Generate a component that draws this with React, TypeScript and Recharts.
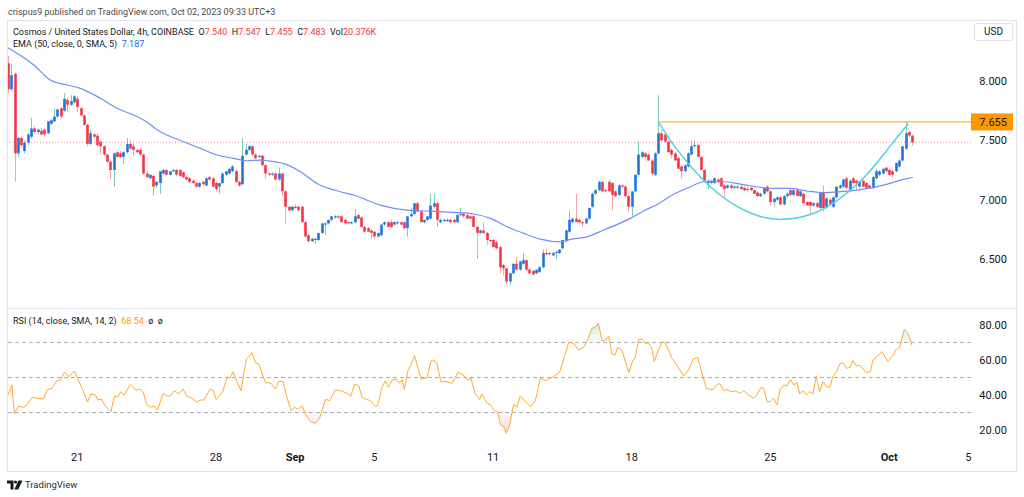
import React from "react";
import { ComposedChart, Bar, Line, Area, XAxis, YAxis, ReferenceLine } from "recharts";

// 4h candles [open, high, low, close], Aug 17 -> Oct 2
const candles: [number, number, number, number][] = [
  [8.15, 8.21, 7.9, 7.93], [7.93, 8.14, 7.91, 8.05], [8.06, 8.07, 7.15, 7.39], [7.39, 7.53, 7.36, 7.52], [7.52, 7.53, 7.44, 7.46],
  [7.41, 7.5, 7.39, 7.48], [7.48, 7.56, 7.46, 7.55], [7.53, 7.69, 7.51, 7.6], [7.6, 7.62, 7.56, 7.57], [7.57, 7.6, 7.55, 7.59],
  [7.58, 7.6, 7.54, 7.55], [7.59, 7.6, 7.53, 7.55], [7.56, 7.66, 7.55, 7.66], [7.64, 7.68, 7.63, 7.67], [7.66, 7.76, 7.65, 7.7],
  [7.7, 7.77, 7.69, 7.76], [7.77, 7.78, 7.68, 7.7], [7.75, 7.9, 7.74, 7.85], [7.84, 7.86, 7.74, 7.8], [7.8, 7.88, 7.79, 7.83],
  [7.82, 7.88, 7.81, 7.87], [7.85, 7.87, 7.74, 7.78], [7.77, 7.78, 7.7, 7.71], [7.71, 7.72, 7.62, 7.63], [7.63, 7.64, 7.45, 7.47],
  [7.47, 7.59, 7.46, 7.56], [7.55, 7.56, 7.52, 7.53], [7.54, 7.56, 7.45, 7.46], [7.49, 7.5, 7.38, 7.45], [7.45, 7.46, 7.37, 7.38],
  [7.38, 7.39, 7.31, 7.32], [7.32, 7.33, 7.17, 7.25], [7.25, 7.4, 7.11, 7.39], [7.4, 7.41, 7.35, 7.36], [7.39, 7.41, 7.35, 7.36],
  [7.36, 7.41, 7.3, 7.4], [7.4, 7.52, 7.39, 7.47], [7.47, 7.5, 7.42, 7.43], [7.45, 7.47, 7.37, 7.42], [7.42, 7.43, 7.39, 7.4],
  [7.42, 7.43, 7.37, 7.38], [7.38, 7.39, 7.21, 7.22], [7.22, 7.24, 7.18, 7.19], [7.18, 7.21, 7.17, 7.21], [7.2, 7.21, 7.03, 7.11],
  [7.12, 7.16, 7.1, 7.15], [7.14, 7.24, 7.05, 7.24], [7.22, 7.26, 7.21, 7.25], [7.25, 7.26, 7.2, 7.21], [7.21, 7.24, 7.2, 7.24],
  [7.24, 7.26, 7.23, 7.25], [7.25, 7.26, 7.2, 7.21], [7.25, 7.26, 7.19, 7.2], [7.23, 7.24, 7.18, 7.19], [7.19, 7.2, 7.16, 7.17],
  [7.18, 7.19, 7.14, 7.15], [7.16, 7.17, 7.13, 7.14], [7.14, 7.15, 7.1, 7.11], [7.11, 7.15, 7.1, 7.14], [7.15, 7.16, 7.12, 7.13],
  [7.12, 7.19, 7.11, 7.18], [7.19, 7.2, 7.16, 7.17], [7.18, 7.19, 7.1, 7.11], [7.14, 7.15, 7.07, 7.09], [7.11, 7.14, 7.05, 7.14],
  [7.14, 7.23, 7.13, 7.22], [7.21, 7.24, 7.2, 7.24], [7.22, 7.27, 7.21, 7.26], [7.24, 7.29, 7.23, 7.28], [7.24, 7.26, 7.14, 7.15],
  [7.15, 7.16, 7.11, 7.12], [7.13, 7.52, 7.12, 7.37], [7.38, 7.47, 7.37, 7.42], [7.42, 7.46, 7.41, 7.45], [7.45, 7.46, 7.37, 7.38],
  [7.38, 7.39, 7.34, 7.35], [7.36, 7.38, 7.35, 7.37], [7.37, 7.38, 7.28, 7.29], [7.29, 7.3, 7.18, 7.22], [7.22, 7.23, 7.2, 7.21],
  [7.21, 7.23, 7.2, 7.22], [7.22, 7.23, 7.16, 7.17], [7.17, 7.27, 7.16, 7.22], [7.22, 7.23, 7.03, 7.07], [7.07, 7.08, 6.8, 6.94],
  [6.94, 6.95, 6.9, 6.91], [6.91, 6.95, 6.9, 6.94], [6.94, 6.96, 6.92, 6.93], [6.94, 6.95, 6.9, 6.91], [6.94, 6.95, 6.81, 6.81],
  [6.81, 6.82, 6.68, 6.69], [6.7, 6.71, 6.64, 6.65], [6.65, 6.68, 6.64, 6.67], [6.66, 6.68, 6.63, 6.67], [6.66, 6.72, 6.65, 6.72],
  [6.72, 6.8, 6.71, 6.8], [6.79, 6.81, 6.7, 6.8], [6.8, 6.83, 6.79, 6.83], [6.83, 6.86, 6.82, 6.86], [6.85, 6.87, 6.84, 6.86],
  [6.86, 6.87, 6.84, 6.85], [6.86, 6.87, 6.81, 6.81], [6.83, 6.84, 6.79, 6.8], [6.81, 6.82, 6.79, 6.8], [6.8, 6.82, 6.79, 6.81],
  [6.81, 6.92, 6.8, 6.86], [6.87, 6.88, 6.83, 6.84], [6.85, 6.86, 6.77, 6.77], [6.77, 6.78, 6.72, 6.73], [6.76, 6.77, 6.73, 6.73],
  [6.74, 6.75, 6.67, 6.72], [6.73, 6.74, 6.67, 6.69], [6.69, 6.72, 6.68, 6.72], [6.7, 6.79, 6.69, 6.79], [6.79, 6.82, 6.78, 6.81],
  [6.81, 6.82, 6.77, 6.77], [6.81, 6.83, 6.76, 6.77], [6.79, 6.82, 6.78, 6.81], [6.8, 6.82, 6.79, 6.81], [6.81, 6.82, 6.78, 6.79],
  [6.81, 6.82, 6.75, 6.76], [6.76, 6.86, 6.69, 6.86], [6.86, 6.93, 6.85, 6.88], [6.88, 6.97, 6.87, 6.97], [6.97, 6.98, 6.89, 6.9],
  [6.9, 6.91, 6.81, 6.81], [6.81, 6.83, 6.8, 6.83], [6.83, 6.86, 6.82, 6.86], [6.84, 7.05, 6.83, 6.95], [6.94, 7.05, 6.93, 6.97],
  [6.97, 6.98, 6.77, 6.83], [6.81, 6.84, 6.8, 6.83], [6.82, 6.84, 6.81, 6.83], [6.82, 6.84, 6.81, 6.83], [6.83, 6.84, 6.8, 6.81],
  [6.83, 6.84, 6.8, 6.81], [6.81, 6.88, 6.8, 6.87], [6.87, 6.93, 6.86, 6.88], [6.88, 6.89, 6.85, 6.86], [6.87, 6.88, 6.84, 6.84],
  [6.86, 6.87, 6.84, 6.84], [6.86, 6.87, 6.77, 6.77], [6.77, 6.78, 6.5, 6.72], [6.72, 6.75, 6.71, 6.74], [6.74, 6.81, 6.71, 6.72],
  [6.72, 6.73, 6.62, 6.66], [6.66, 6.67, 6.64, 6.65], [6.66, 6.67, 6.6, 6.6], [6.64, 6.65, 6.58, 6.59], [6.6, 6.61, 6.38, 6.43],
  [6.45, 6.46, 6.36, 6.42], [6.42, 6.43, 6.29, 6.31], [6.31, 6.38, 6.28, 6.38], [6.38, 6.46, 6.37, 6.46], [6.46, 6.52, 6.4, 6.41],
  [6.41, 6.48, 6.4, 6.48], [6.46, 6.55, 6.45, 6.49], [6.49, 6.5, 6.4, 6.41], [6.41, 6.42, 6.37, 6.38], [6.4, 6.41, 6.36, 6.37],
  [6.38, 6.41, 6.37, 6.41], [6.39, 6.44, 6.38, 6.43], [6.43, 6.58, 6.42, 6.55], [6.55, 6.58, 6.53, 6.54], [6.55, 6.56, 6.53, 6.54],
  [6.53, 6.56, 6.52, 6.55], [6.55, 6.57, 6.5, 6.56], [6.55, 6.58, 6.54, 6.58], [6.59, 6.66, 6.58, 6.66], [6.65, 6.75, 6.64, 6.74],
  [6.73, 6.91, 6.72, 6.83], [6.81, 6.85, 6.8, 6.84], [6.84, 7.05, 6.81, 6.81], [6.83, 6.84, 6.8, 6.81], [6.81, 6.82, 6.77, 6.8],
  [6.8, 6.85, 6.79, 6.84], [6.84, 6.93, 6.83, 6.93], [6.94, 7.06, 6.93, 7.05], [7.05, 7.09, 7.04, 7.08], [7.08, 7.16, 7.07, 7.15],
  [7.15, 7.16, 7.06, 7.07], [7.08, 7.09, 7.06, 7.07], [7.15, 7.17, 7.07, 7.07], [7.14, 7.15, 6.91, 7.04], [7.07, 7.08, 7.02, 7.03],
  [7.04, 7.13, 7.03, 7.12], [7.12, 7.13, 7.1, 7.11], [7.11, 7.12, 7.02, 7.03], [7.03, 7.04, 6.9, 6.94], [6.94, 7.07, 6.86, 7.07],
  [7.07, 7.21, 7.06, 7.21], [7.21, 7.49, 7.19, 7.38], [7.36, 7.41, 7.35, 7.4], [7.39, 7.4, 7.35, 7.36], [7.38, 7.39, 7.33, 7.33],
  [7.33, 7.34, 7.2, 7.22], [7.21, 7.4, 7.2, 7.39], [7.39, 7.88, 7.38, 7.56], [7.56, 7.59, 7.49, 7.5], [7.55, 7.57, 7.48, 7.49],
  [7.49, 7.5, 7.4, 7.4], [7.42, 7.43, 7.35, 7.38], [7.39, 7.4, 7.33, 7.33], [7.35, 7.36, 7.26, 7.26], [7.28, 7.29, 7.18, 7.24],
  [7.24, 7.3, 7.23, 7.29], [7.28, 7.4, 7.27, 7.39], [7.38, 7.5, 7.37, 7.45], [7.45, 7.5, 7.44, 7.46], [7.46, 7.47, 7.36, 7.36],
  [7.36, 7.37, 7.25, 7.25], [7.25, 7.26, 7.15, 7.15], [7.14, 7.17, 7.09, 7.16], [7.14, 7.17, 7.13, 7.16], [7.14, 7.19, 7.13, 7.18],
  [7.17, 7.18, 7.14, 7.15], [7.18, 7.19, 7.11, 7.11], [7.12, 7.13, 7.02, 7.09], [7.1, 7.13, 7.09, 7.12], [7.12, 7.13, 7.09, 7.1],
  [7.1, 7.12, 7.09, 7.11], [7.1, 7.12, 7.09, 7.11], [7.11, 7.12, 7.08, 7.09], [7.1, 7.11, 7.07, 7.08], [7.09, 7.11, 7.07, 7.08],
  [7.1, 7.11, 7.07, 7.08], [7.08, 7.09, 7.05, 7.05], [7.06, 7.07, 7.02, 7.03], [7.03, 7.06, 7.02, 7.05], [7.05, 7.1, 7.04, 7.1],
  [7.11, 7.12, 7.06, 7.07], [7.07, 7.08, 6.95, 6.98], [6.98, 7.01, 6.94, 7.01], [7.0, 7.03, 6.99, 7.02], [7.02, 7.03, 6.95, 6.96],
  [6.96, 7.04, 6.95, 7.03], [7.03, 7.06, 7.02, 7.05], [7.08, 7.09, 7.03, 7.04], [7.04, 7.09, 7.03, 7.08], [7.08, 7.09, 7.03, 7.03],
  [7.03, 7.07, 7.02, 7.07], [7.05, 7.06, 6.97, 6.97], [6.98, 6.99, 6.95, 6.95], [6.98, 6.99, 6.87, 6.95], [6.95, 6.98, 6.94, 6.97],
  [6.97, 6.98, 6.93, 6.94], [6.93, 7.06, 6.92, 7.06], [7.06, 7.12, 6.9, 6.93], [6.93, 7.02, 6.92, 7.01], [7.0, 7.01, 6.95, 6.96],
  [6.94, 7.03, 6.93, 7.02], [7.02, 7.11, 7.01, 7.11], [7.1, 7.13, 7.09, 7.12], [7.11, 7.18, 7.1, 7.17], [7.18, 7.19, 7.09, 7.1],
  [7.08, 7.17, 7.07, 7.16], [7.18, 7.19, 7.13, 7.14], [7.16, 7.17, 7.08, 7.14], [7.11, 7.16, 7.1, 7.15], [7.16, 7.17, 7.11, 7.11],
  [7.14, 7.15, 7.09, 7.1], [7.12, 7.13, 7.09, 7.1], [7.1, 7.2, 7.09, 7.19], [7.18, 7.26, 7.17, 7.24], [7.21, 7.25, 7.2, 7.24],
  [7.22, 7.27, 7.21, 7.26], [7.27, 7.28, 7.23, 7.24], [7.25, 7.26, 7.2, 7.21], [7.24, 7.25, 7.18, 7.21], [7.24, 7.31, 7.23, 7.31],
  [7.28, 7.34, 7.27, 7.33], [7.33, 7.45, 7.32, 7.45], [7.43, 7.66, 7.42, 7.56], [7.57, 7.59, 7.53, 7.54], [7.54, 7.547, 7.455, 7.483],
];

// EMA(50): [candle index, value]
const emaPoints: [number, number][] = [
  [0, 8.28], [7.8, 8.135], [12.8, 8.008], [17.9, 7.966], [21.9, 7.938], [28, 7.854], [33, 7.77], [38.1, 7.713],
  [41.1, 7.671], [46.2, 7.573], [53.2, 7.488], [58.3, 7.432], [63.3, 7.376], [68.4, 7.348], [72.4, 7.328], [76.5, 7.334],
  [80.5, 7.32], [83.5, 7.306], [88.6, 7.236], [93.6, 7.137], [100.7, 7.067], [104.7, 7.039], [112.8, 6.954], [120.9, 6.912],
  [128, 6.904], [135, 6.893], [141.1, 6.879], [146.2, 6.842], [151.2, 6.772], [156.3, 6.716], [161.3, 6.668], [167.4, 6.645],
  [170.4, 6.665], [175.5, 6.687], [180.5, 6.744], [184.5, 6.79], [188.6, 6.842], [192.6, 6.905], [196.7, 6.96], [201.7, 7.045],
  [206.8, 7.109], [210.8, 7.151], [216.9, 7.151], [221.9, 7.131], [232, 7.095], [237, 7.095], [242.1, 7.073], [247.1, 7.059],
  [252.2, 7.067], [257.2, 7.081], [262.3, 7.103], [267.3, 7.137], [271.3, 7.171], [274.2, 7.187],
];

// RSI(14): [candle index, value]
const rsiPoints: [number, number][] = [
  [0, 40], [1.2, 45.7], [1.9, 29.1], [3.2, 33.7], [4.7, 33], [5.7, 34.3], [7.3, 38.7], [8.8, 38.1], [10.8, 37.7], [11.8, 42.9],
  [13.3, 43.8], [14.8, 48.2], [15.9, 48.6], [17.1, 53.1], [18.4, 50.5], [20.1, 53.7], [21.4, 48.2], [22.7, 42.9], [24.1, 36],
  [25.1, 40.6], [26.5, 40], [27.2, 37.1], [28.2, 37.7], [29.5, 33.7], [31.2, 30.5], [32.2, 39.4], [33.2, 38.7], [34.2, 41.9],
  [35.2, 40], [37.1, 46.3], [38.6, 42.9], [39.9, 43.4], [40.9, 41.9], [42.1, 34.3], [43.3, 33], [44.3, 33.7], [45.3, 31.4],
  [47, 41], [48.2, 39.4], [49.2, 39.4], [50.4, 42.5], [51.7, 40.6], [53, 43.4], [54.2, 39.4], [55.8, 38.1], [57.1, 36],
  [58.3, 37.1], [59.3, 37.1], [61.3, 43.4], [62.1, 42.9], [63.1, 37.5], [64.3, 40], [65.1, 41.9], [66.4, 50.5], [67.2, 49.5],
  [68.2, 53.3], [69.4, 47.6], [70.6, 42.5], [72.2, 60.4], [72.9, 61.9], [73.9, 64.2], [75, 58.5], [76, 57.7], [78, 47.1],
  [79.7, 46.7], [81, 43.4], [82, 47.6], [83.3, 48], [84.7, 37.5], [85.8, 31.1], [86.8, 33], [87.8, 31.8], [89.1, 33.9],
  [90.1, 29.1], [91.6, 24.8], [93.1, 23.8], [94.4, 26.7], [96.2, 37.5], [97.5, 36.8], [99.2, 42.9], [100.7, 42.5], [102.7, 41],
  [103.9, 39.4], [105, 46.3], [106.3, 45.1], [107.3, 38.7], [108.6, 37.5], [109.8, 36.8], [111.3, 33.7], [112, 33.7],
  [113.3, 44.4], [114.3, 48], [115.3, 44.4], [116.4, 48.6], [117.7, 48.9], [118.7, 46.7], [119.4, 48.9], [120.1, 43.2],
  [121.1, 53.3], [122.1, 57.1], [123.2, 62.5], [124.4, 54.3], [125.2, 49.1], [127, 49.9], [128.2, 59.6], [129, 60], [130, 57.7],
  [131.2, 47.6], [133, 47.6], [134.5, 46.7], [136.3, 52.8], [137.6, 52], [139.1, 48.9], [140.3, 49.5], [141.6, 40.6],
  [142.9, 37.5], [143.6, 40.6], [145, 35.6], [146.2, 34.3], [147.4, 31.1], [148.4, 30.5], [149.2, 22.9], [150.2, 21.9],
  [151, 18.1], [152, 22.9], [153.2, 34.9], [154.2, 33], [155.2, 39.4], [156.5, 36.8], [158.3, 33.3], [159.8, 36.8],
  [161.3, 49.5], [162.8, 48.2], [165.3, 50.5], [167.2, 53.3], [168.6, 61.9], [169.9, 70.1], [171.4, 69.5], [172.9, 65.7],
  [174.4, 67.2], [175.6, 71.4], [176.9, 78.1], [177.9, 78.7], [178.9, 81], [180, 71], [181, 71.4], [182, 73.7], [183, 63.4],
  [184, 62.9], [184.7, 67.2], [186, 65.7], [188.1, 52.8], [189.4, 60], [190.1, 61.5], [191.1, 71.8], [192.1, 72], [193.1, 69.5],
  [194.1, 69.9], [195.1, 66.7], [195.8, 59.1], [196.9, 64.8], [198.2, 70.5], [199.2, 69.9], [201.2, 60.9], [202.7, 57.1],
  [204.7, 50.9], [206.2, 54.3], [207.6, 60.4], [209, 61.5], [210.3, 52.4], [211.6, 43.8], [212.8, 43.2], [213.8, 43.2],
  [215, 46.3], [215.8, 46.3], [216.9, 42.5], [217.9, 43.2], [219.1, 41.9], [220.4, 42.3], [221.9, 41], [222.9, 42.5],
  [224.4, 40], [225.9, 38.1], [226.9, 40], [228.2, 44.4], [229, 43.8], [230, 36.2], [231, 36.2], [232, 38.1], [233, 34.3],
  [234, 43.2], [235.2, 45.7], [236, 45.1], [237.1, 48.9], [238.1, 45.7], [239.1, 47.1], [239.9, 40.6], [240.9, 42.5],
  [241.9, 40], [242.9, 41.9], [243.9, 40.6], [244.9, 50.9], [245.9, 41.9], [247, 47.6], [248, 44.8], [249, 44.4], [250, 50.9],
  [251, 52.8], [252, 57.7], [253, 58.5], [254.2, 55.2], [255.2, 55.8], [256, 59.6], [257.1, 56.6], [258.1, 57.1], [260.1, 52.8],
  [261.3, 53.3], [262.1, 60], [263.3, 61.9], [264.8, 64.8], [266.6, 59.1], [267.9, 61.9], [269.2, 66.1], [270.2, 67.2],
  [271.6, 77.5], [272.6, 75.6], [273.9, 68.54],
];

// cup drawing and resistance level
const cupPoints: [number, number][] = [
  [197, 7.657], [202.5, 7.43], [210.7, 7.165], [218.9, 6.977], [227, 6.867], [234.6, 6.834], [243.3, 6.877],
  [251.4, 6.997], [259.6, 7.193], [266.7, 7.43], [272.8, 7.64],
];
const levelPoints: [number, number][] = [[197, 7.655], [291.8, 7.655]];
const levelValue = 7.655;
const lastClose = 7.483;

const priceTicks = [6.5, 7, 7.5, 8];
const rsiTicks = [20, 40, 60, 80];
const rsiLevels = [70, 50, 30];
const timeTicks = [21, 63, 87, 111, 147, 189, 231, 267, 291];
const timeLabels = ["21", "28", "Sep", "5", "11", "18", "25", "Oct", "5"];

const FONT = "Roboto, 'Noto Sans', sans-serif";
const TEXT = "#131722";
const UP = "#2474e0";
const DOWN = "#f23645";
const UP_WICK = "#80cbb6";
const DOWN_WICK = "#f6a3ab";
const BODY_W = 2.6;
const X_DOMAIN: [number, number] = [0, 291.8];

const candleData = candles.map(([o, h, l, c], i) => ({ i, o, h, l, c, range: [l, h] }));
const emaData = emaPoints.map(([i, v]) => ({ i, v }));
const cupData = cupPoints.map(([i, v]) => ({ i, v }));
const levelData = levelPoints.map(([i, v]) => ({ i, v }));
const rsiData = rsiPoints.map(([i, v]) => ({
  i,
  v,
  ob: [70, Math.max(v, 70)],
  os: [Math.min(v, 30), 30],
}));

const Candle = (props: any) => {
  const { x, y, width, height, payload } = props;
  if (!payload || x == null) return null;
  const { o, h, l, c } = payload;
  const span = h - l;
  const full = Math.abs(height);
  const top = Math.min(y, y + height);
  const k = span > 0 ? full / span : 0;
  const yOf = (v: number) => top + (h - v) * k;
  const up = c >= o;
  const cx = Math.round(x + width / 2) + 0.5;
  const bodyTop = yOf(Math.max(o, c));
  const bodyH = Math.max(1, yOf(Math.min(o, c)) - bodyTop);
  return (
    <g>
      <line x1={cx} x2={cx} y1={top} y2={top + full} stroke={up ? UP_WICK : DOWN_WICK} strokeWidth={1} />
      <rect x={cx - BODY_W / 2} y={bodyTop} width={BODY_W} height={bodyH} fill={up ? UP : DOWN} />
    </g>
  );
};

const PriceTick = ({ x, y, payload }: any) => (
  <text x={x + 36} y={y} dy={4} textAnchor="end" fontSize={11} fill={TEXT} fontFamily={FONT}>
    {Number(payload.value).toFixed(3)}
  </text>
);

const RsiTick = ({ x, y, payload }: any) => (
  <text x={x + 36} y={y} dy={4} textAnchor="end" fontSize={11} fill={TEXT} fontFamily={FONT}>
    {Number(payload.value).toFixed(2)}
  </text>
);

const TimeTick = ({ x, y, payload }: any) => {
  const label = timeLabels[timeTicks.indexOf(payload.value)] ?? "";
  const bold = label === "Sep" || label === "Oct";
  return (
    <text x={x} y={y} dy={16} textAnchor="middle" fontSize={11} fontWeight={bold ? 700 : 400} fill={TEXT} fontFamily={FONT}>
      {label}
    </text>
  );
};

const LevelLabel = (props: any) => {
  const vb = props.viewBox || {};
  const x0 = vb.x + vb.width;
  const y0 = vb.y;
  return (
    <g>
      <rect x={x0} y={y0 - 8.5} width={42} height={17} fill="#ff9800" />
      <text x={x0 + 36} y={y0} dy={4} textAnchor="end" fontSize={11} fill={TEXT} fontFamily={FONT}>
        {levelValue.toFixed(3)}
      </text>
    </g>
  );
};

const abs = (style: React.CSSProperties): React.CSSProperties => ({ position: "absolute", ...style });

export default function App() {
  return (
    <div style={abs({ left: 0, top: 0, width: 1024, height: 497, background: "#fff", fontFamily: FONT, color: TEXT, overflow: "hidden" })}>
      <div style={abs({ left: 8, top: 6, fontSize: 9, lineHeight: "12px", color: "#4a4a4a", whiteSpace: "nowrap" })}>
        crispus9 published on TradingView.com, Oct 02, 2023 09:33 UTC+3
      </div>

      <div style={abs({ left: 7, top: 20, width: 1010, height: 452, border: "1px solid #e0e3eb", boxSizing: "border-box" })} />
      <div style={abs({ left: 7, top: 308, width: 1010, height: 1, background: "#e0e3eb" })} />

      <div style={abs({ left: 0, top: 0 })}>
        <ComposedChart width={1024} height={310} data={candleData} margin={{ top: 20, right: 0, bottom: 2, left: 8 }}>
          <XAxis dataKey="i" type="number" domain={X_DOMAIN} allowDataOverflow hide />
          <YAxis
            orientation="right"
            width={53}
            domain={[6.087, 8.514]}
            allowDataOverflow
            ticks={priceTicks}
            axisLine={false}
            tickLine={false}
            tickSize={0}
            tickMargin={0}
            tick={<PriceTick />}
          />
          <ReferenceLine y={lastClose} stroke="#f06b78" strokeOpacity={0.75} strokeDasharray="1 2" />
          <Bar dataKey="range" barSize={3} shape={<Candle />} isAnimationActive={false} />
          <Line data={emaData} dataKey="v" type="monotone" stroke="#6f8ff7" strokeWidth={1.2} dot={false} isAnimationActive={false} />
          <Line data={levelData} dataKey="v" type="linear" stroke="#ffae35" strokeWidth={1.2} dot={false} isAnimationActive={false} />
          <Line data={cupData} dataKey="v" type="natural" stroke="#55d0e6" strokeWidth={1.5} dot={false} isAnimationActive={false} />
          <ReferenceLine y={levelValue} strokeOpacity={0} label={<LevelLabel />} />
        </ComposedChart>
      </div>

      <div style={abs({ left: 0, top: 310 })}>
        <ComposedChart width={1024} height={162} data={rsiData} margin={{ top: 0, right: 0, bottom: 0, left: 8 }}>
          <defs>
            <linearGradient id="obFill" x1="0" y1="0" x2="0" y2="1">
              <stop offset="0%" stopColor="#26a65b" stopOpacity={0.35} />
              <stop offset="100%" stopColor="#26a65b" stopOpacity={0.05} />
            </linearGradient>
            <linearGradient id="osFill" x1="0" y1="0" x2="0" y2="1">
              <stop offset="0%" stopColor="#f23645" stopOpacity={0.05} />
              <stop offset="100%" stopColor="#f23645" stopOpacity={0.35} />
            </linearGradient>
          </defs>
          <XAxis
            dataKey="i"
            type="number"
            domain={X_DOMAIN}
            allowDataOverflow
            ticks={timeTicks}
            height={27}
            axisLine={false}
            tickLine={false}
            tickSize={0}
            tickMargin={0}
            interval={0}
            tick={<TimeTick />}
          />
          <YAxis
            orientation="right"
            width={53}
            domain={[11.43, 88.57]}
            allowDataOverflow
            ticks={rsiTicks}
            axisLine={false}
            tickLine={false}
            tickSize={0}
            tickMargin={0}
            tick={<RsiTick />}
          />
          {rsiLevels.map((lv) => (
            <ReferenceLine key={lv} y={lv} stroke="#9598a1" strokeOpacity={0.8} strokeDasharray="4 3" />
          ))}
          <Area dataKey="ob" type="linear" stroke="none" fill="url(#obFill)" isAnimationActive={false} />
          <Area dataKey="os" type="linear" stroke="none" fill="url(#osFill)" isAnimationActive={false} />
          <Line dataKey="v" type="linear" stroke="#ffa931" strokeWidth={1} dot={false} isAnimationActive={false} />
        </ComposedChart>
      </div>

      <div style={abs({ left: 13, top: 26, fontSize: 9, lineHeight: "12px", whiteSpace: "nowrap" })}>
        Cosmos / United States Dollar, 4h, COINBASE&nbsp;&nbsp;O<span style={{ color: DOWN }}>7.540</span>&nbsp;&nbsp;H
        <span style={{ color: DOWN }}>7.547</span>&nbsp;&nbsp;L<span style={{ color: DOWN }}>7.455</span>&nbsp;&nbsp;C
        <span style={{ color: DOWN }}>7.483</span>&nbsp;&nbsp;Vol<span style={{ color: DOWN }}>20.376K</span>
      </div>
      <div style={abs({ left: 13, top: 38, fontSize: 9, lineHeight: "12px", whiteSpace: "nowrap" })}>
        EMA (50, close, 0, SMA, 5)&nbsp;&nbsp;<span style={{ color: "#2962ff" }}>7.187</span>
      </div>
      <div style={abs({ left: 13, top: 315, fontSize: 9, lineHeight: "12px", whiteSpace: "nowrap" })}>
        RSI (14, close, SMA, 14, 2)&nbsp;&nbsp;<span style={{ color: "#ff9800" }}>68.54</span>&nbsp;&nbsp;ø&nbsp;&nbsp;ø
      </div>

      <div style={abs({ left: 974, top: 23, width: 39, height: 18, border: "1px solid #e0e3eb", borderRadius: 3, boxSizing: "border-box", fontSize: 10, lineHeight: "16px", textAlign: "center" })}>
        USD
      </div>

      <svg style={abs({ left: 7, top: 480 })} width={16} height={10} viewBox="0 0 16 10">
        <path d="M0 0.5h6.5v9h-3v-6h-3.5z" fill={TEXT} />
        <circle cx={8.6} cy={2} r={1.6} fill={TEXT} />
        <path d="M11.5 0.5h4l-4.2 9h-4z" fill={TEXT} />
      </svg>
      <div style={abs({ left: 25, top: 479, fontSize: 9.5, lineHeight: "12px", color: "#2a2e39", whiteSpace: "nowrap" })}>TradingView</div>
    </div>
  );
}
